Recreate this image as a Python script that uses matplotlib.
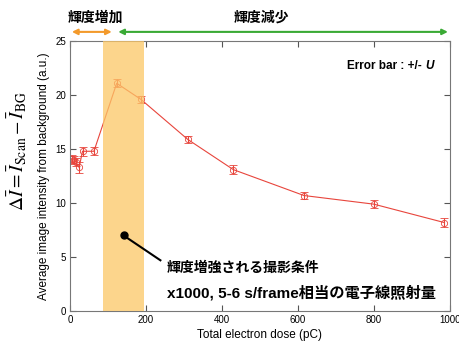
import matplotlib
matplotlib.use("Agg")
import matplotlib.pyplot as plt

plt.rcParams["font.family"] = ["Liberation Sans", "Noto Sans CJK JP", "DejaVu Sans"]

# data
dose = [4, 10, 16, 24, 33, 63, 123, 187, 310, 430, 616, 800, 985]
intensity = [14.1, 14.0, 13.8, 13.3, 14.8, 14.8, 21.1, 19.6, 15.9, 13.1, 10.7, 9.9, 8.2]
err = [0.4, 0.4, 0.4, 0.55, 0.4, 0.35, 0.35, 0.35, 0.35, 0.4, 0.35, 0.4, 0.4]
x_ticks = [0, 200, 400, 600, 800, 1000]
y_ticks = [0, 5, 10, 15, 20, 25]
span = (88, 194)

RED = "#e8453c"

fig = plt.figure(figsize=(4.59, 3.42), dpi=100)
ax = fig.add_axes([0.1525, 0.0906, 0.8275, 0.789])

ax.errorbar(dose, intensity, yerr=err, color=RED, lw=0.8, marker="o", ms=4.5,
            mfc="none", mew=0.6, capsize=3, elinewidth=0.8, zorder=2)
ax.axvspan(*span, color="#fcc766", alpha=0.75, lw=0, zorder=3)

ax.set_xlim(0, 1000)
ax.set_ylim(0, 25)
ax.set_xticks(x_ticks)
ax.set_yticks(y_ticks)
ax.tick_params(direction="in", top=True, right=True, labelsize=7, length=4,
               color="#555555", pad=3)
for s in ax.spines.values():
    s.set_color("#777777")
    s.set_linewidth(0.8)

ax.set_xlabel("Total electron dose (pC)", fontsize=8.5, labelpad=3)
ax.set_ylabel("Average image intensity from background (a.u.)", fontsize=8.5, labelpad=4)
fig.text(0.037, 0.56, r"$\Delta\bar{I} = \bar{I}_{\rm Scan} - \bar{I}_{\rm BG}$",
         rotation=90, ha="center", va="center", fontsize=14,
         math_fontfamily="stix")

ax.text(0.935, 0.907, "Error bar : +/- ", transform=ax.transAxes, ha="right",
        va="center", fontsize=8.5, fontweight="bold")
ax.text(0.935, 0.907, "U", transform=ax.transAxes, ha="left", va="center",
        fontsize=8.5, fontweight="bold", fontstyle="italic")

# annotation
ax.plot([141], [7.0], "o", color="black", ms=5, zorder=5)
ax.plot([141, 238], [7.0, 4.7], color="black", lw=1.5, zorder=5)
ax.text(255, 4.0, "輝度増強される撮影条件", fontsize=10, fontweight="bold",
        va="center", zorder=6)
ax.text(255, 1.7, "x1000, 5-6 s/frame相当の電子線照射量", fontsize=11,
        fontweight="bold", va="center", zorder=6)

# top arrows
ax.annotate("", xy=(5, 25.86), xytext=(110, 25.86), xycoords="data",
            arrowprops=dict(arrowstyle="<|-|>", color="#f39a2b", lw=1.5,
                            mutation_scale=8, shrinkA=0, shrinkB=0),
            annotation_clip=False)
ax.annotate("", xy=(127, 25.86), xytext=(995, 25.86), xycoords="data",
            arrowprops=dict(arrowstyle="<|-|>", color="#3aaa35", lw=1.5,
                            mutation_scale=8, shrinkA=0, shrinkB=0),
            annotation_clip=False)
ax.text(-5, 27.2, "輝度増加", fontsize=10, fontweight="bold", ha="left", va="center",
        clip_on=False)
ax.text(504, 27.2, "輝度減少", fontsize=10, fontweight="bold", ha="center",
        va="center", clip_on=False)

fig.savefig("out.png", dpi=100)
